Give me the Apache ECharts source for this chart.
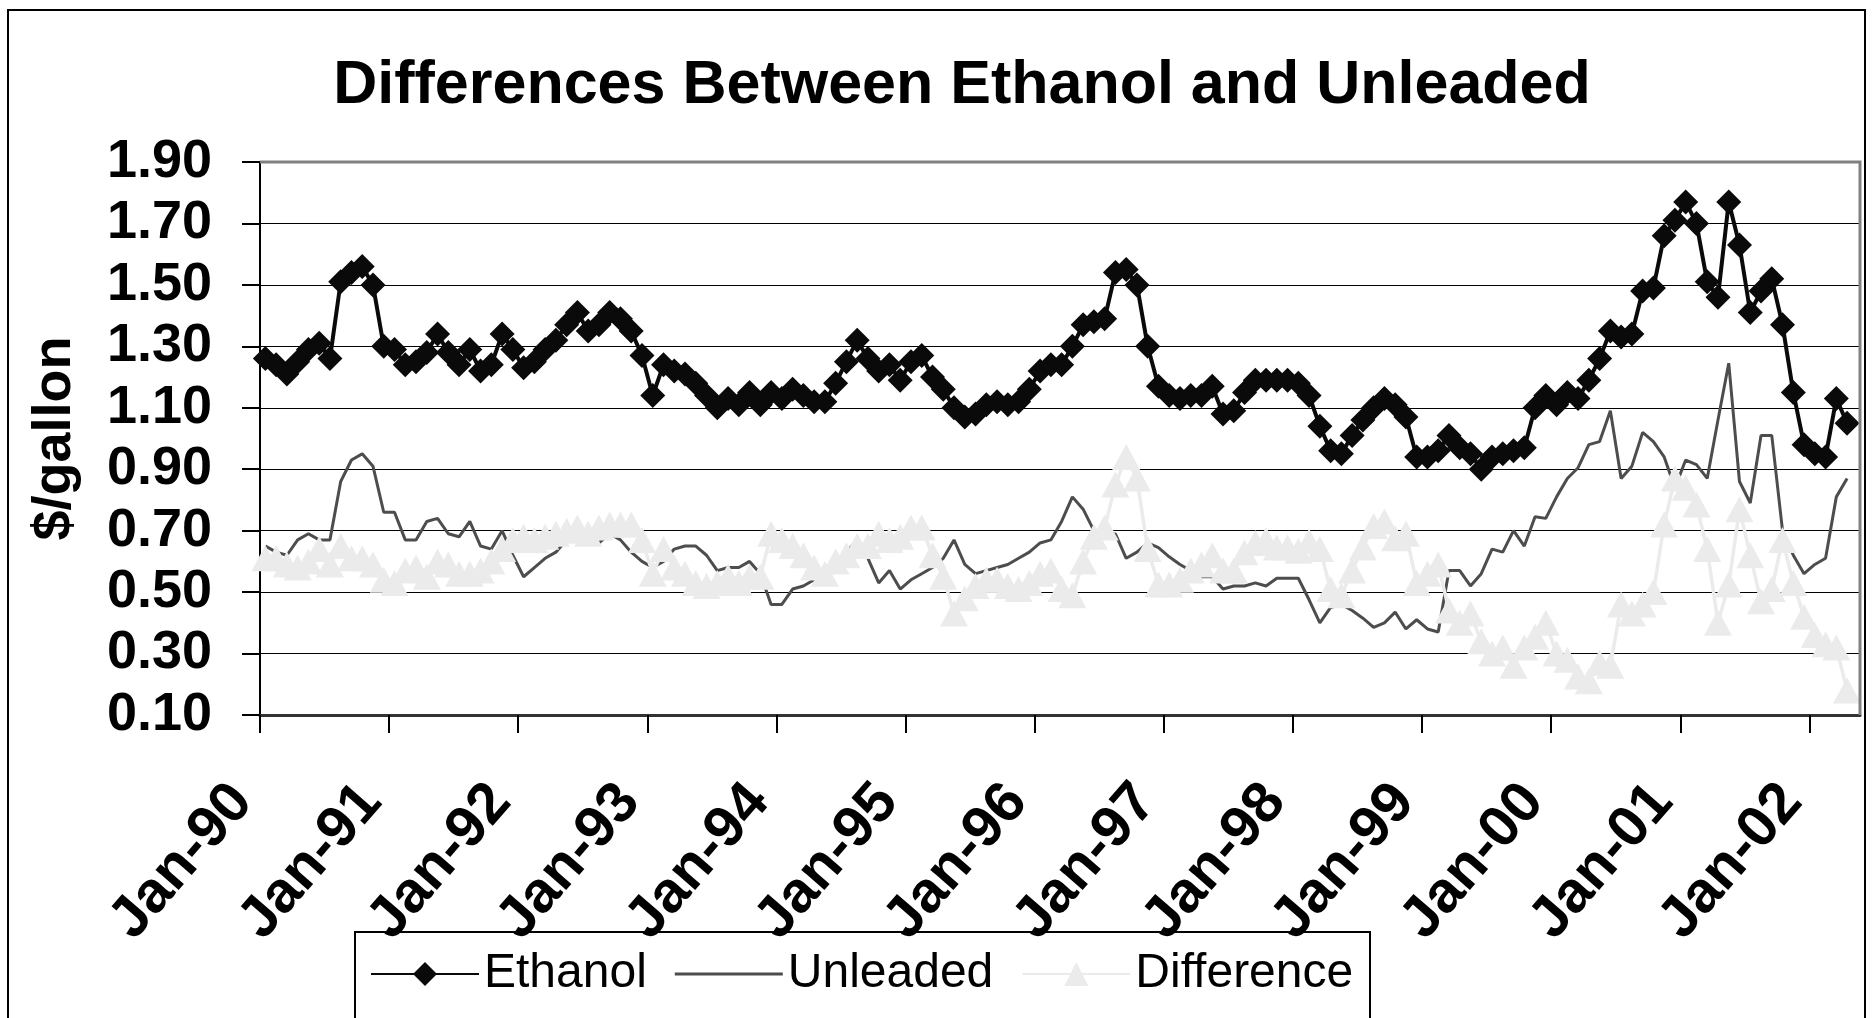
<!DOCTYPE html>
<html>
<head>
<meta charset="utf-8">
<script src="https://cdn.jsdelivr.net/npm/echarts@6/dist/echarts.min.js"></script>
<style>
html,body{margin:0;padding:0;background:#fff;}
#chart{width:1872px;height:1018px;}
</style>
</head>
<body>
<div id="chart"></div>
<script>
// ---- data (monthly, Jan-1990 .. Apr-2002) ----
const tickLabels = ['Jan-90','Jan-91','Jan-92','Jan-93','Jan-94','Jan-95','Jan-96','Jan-97','Jan-98','Jan-99','Jan-00','Jan-01','Jan-02'];
const tickMonths = [0,12,24,36,48,60,72,84,96,108,120,132,144];

const ethanol = [
  1.26,1.24,1.21,1.25,1.29,1.31,1.26,1.51,1.54,1.56,1.50,1.30,
  1.29,1.24,1.25,1.28,1.34,1.28,1.24,1.29,1.22,1.24,1.34,1.29,
  1.23,1.25,1.29,1.32,1.37,1.41,1.35,1.37,1.41,1.39,1.35,1.27,
  1.14,1.24,1.22,1.21,1.18,1.14,1.10,1.13,1.11,1.15,1.11,1.15,
  1.13,1.16,1.14,1.12,1.12,1.18,1.25,1.32,1.26,1.22,1.24,1.19,
  1.25,1.27,1.20,1.16,1.10,1.07,1.08,1.11,1.12,1.11,1.12,1.16,
  1.22,1.24,1.24,1.30,1.37,1.38,1.39,1.54,1.55,1.50,1.30,1.17,
  1.14,1.13,1.14,1.14,1.17,1.08,1.09,1.15,1.19,1.19,1.19,1.19,
  1.18,1.14,1.04,0.96,0.95,1.01,1.06,1.10,1.13,1.11,1.07,0.94,
  0.94,0.96,1.01,0.97,0.95,0.90,0.94,0.95,0.96,0.97,1.10,1.14,
  1.11,1.15,1.13,1.19,1.26,1.35,1.33,1.34,1.48,1.49,1.66,1.71,
  1.77,1.70,1.51,1.46,1.77,1.63,1.41,1.48,1.52,1.37,1.15,0.98,
  0.95,0.94,1.13,1.05
];

const unleaded = [
  0.65,0.63,0.62,0.67,0.69,0.67,0.67,0.86,0.93,0.95,0.91,0.76,
  0.76,0.67,0.67,0.73,0.74,0.69,0.68,0.73,0.65,0.64,0.70,0.62,
  0.55,0.58,0.61,0.63,0.67,0.70,0.66,0.66,0.69,0.67,0.63,0.60,
  0.58,0.60,0.64,0.65,0.65,0.62,0.57,0.58,0.58,0.60,0.56,0.46,
  0.46,0.51,0.52,0.54,0.56,0.58,0.63,0.67,0.61,0.53,0.57,0.51,
  0.54,0.56,0.58,0.61,0.67,0.59,0.56,0.57,0.58,0.59,0.61,0.63,
  0.66,0.67,0.73,0.81,0.77,0.70,0.68,0.69,0.61,0.63,0.66,0.645,
  0.615,0.59,0.57,0.55,0.55,0.51,0.52,0.52,0.53,0.52,0.545,0.545,
  0.545,0.475,0.40,0.45,0.46,0.44,0.415,0.385,0.40,0.435,0.38,0.41,
  0.38,0.37,0.57,0.57,0.52,0.56,0.64,0.63,0.70,0.65,0.745,0.74,
  0.81,0.87,0.905,0.98,0.99,1.09,0.87,0.91,1.02,0.99,0.94,0.84,
  0.93,0.915,0.87,1.06,1.245,0.86,0.79,1.01,1.01,0.70,0.62,0.56,
  0.59,0.61,0.81,0.87
];

const difference = [
  0.61,0.61,0.59,0.58,0.60,0.64,0.59,0.65,0.61,0.61,0.59,0.54,
  0.53,0.57,0.58,0.55,0.60,0.59,0.56,0.56,0.57,0.60,0.64,0.67,
  0.68,0.67,0.68,0.69,0.70,0.71,0.69,0.71,0.72,0.72,0.72,0.67,
  0.56,0.64,0.58,0.56,0.53,0.52,0.53,0.55,0.53,0.55,0.55,0.69,
  0.67,0.65,0.62,0.58,0.56,0.60,0.62,0.65,0.65,0.69,0.67,0.68,
  0.71,0.71,0.62,0.55,0.43,0.48,0.52,0.54,0.54,0.52,0.51,0.53,
  0.56,0.57,0.51,0.49,0.60,0.68,0.71,0.85,0.94,0.87,0.64,0.525,
  0.525,0.54,0.57,0.59,0.62,0.57,0.57,0.63,0.66,0.67,0.645,0.645,
  0.635,0.665,0.64,0.51,0.49,0.57,0.645,0.715,0.73,0.675,0.69,0.53,
  0.56,0.59,0.44,0.40,0.43,0.34,0.30,0.32,0.26,0.32,0.355,0.40,
  0.30,0.28,0.225,0.21,0.27,0.26,0.46,0.43,0.46,0.50,0.72,0.87,
  0.84,0.785,0.64,0.40,0.525,0.77,0.62,0.47,0.51,0.67,0.53,0.42,
  0.36,0.33,0.32,0.18
];

// ---- chart ----
const FONT = "'Liberation Sans', Arial, Helvetica, sans-serif";
const toPoints = arr => arr.map((v, i) => [i + 0.5, v]); // mid-month positions on a month axis

const chart = echarts.init(document.getElementById('chart'), null, {renderer: 'canvas'});
chart.setOption({
  animation: false,
  backgroundColor: '#ffffff',
  textStyle: {fontFamily: FONT},
  grid: {left: 260, top: 162, width: 1600, height: 553, containLabel: false},
  xAxis: {
    type: 'value', min: 0, max: 148.7,
    axisLine: {show: true, onZero: false, lineStyle: {color: '#333333', width: 3}},
    axisTick: {show: true, length: 18, customValues: tickMonths, lineStyle: {color: '#000', width: 2}},
    axisLabel: {
      customValues: tickMonths,
      formatter: v => tickLabels[Math.round(v / 12)] || '',
      rotate: 49, margin: 57, padding: [0, 27, 0, 0],
      fontSize: 58, fontWeight: 'bold', color: '#000', fontFamily: FONT
    },
    splitLine: {show: false}
  },
  yAxis: {
    type: 'value', min: 0.1, max: 1.9, interval: 0.2,
    name: '$/gallon', nameLocation: 'middle', nameGap: 178, nameRotate: 90,
    nameTextStyle: {fontSize: 54, fontWeight: 'bold', color: '#000', fontFamily: FONT},
    axisLine: {show: true, onZero: false, lineStyle: {color: '#000', width: 2}},
    axisTick: {show: true, length: 18, lineStyle: {color: '#000', width: 2}},
    axisLabel: {margin: 48, fontSize: 54, fontWeight: 'bold', color: '#000', fontFamily: FONT,
      formatter: v => v.toFixed(2)},
    splitLine: {show: true, lineStyle: {color: '#000', width: 1}}
  },
  legend: {
    left: 370, top: 950, padding: 0, itemGap: 28, itemWidth: 108, itemHeight: 30,
    textStyle: {fontSize: 48, color: '#000', fontFamily: FONT, lineHeight: 48},
    data: [
      {name: 'Ethanol'},
      {name: 'Unleaded', icon: 'path://M0,0L108,0L108,3L0,3Z'},
      {name: 'Difference'}
    ]
  },
  graphic: [
    {type: 'rect', silent: true, z: 100, shape: {x: 8, y: 10, width: 1857, height: 1040},
      style: {fill: 'none', stroke: '#000', lineWidth: 2}},
    {type: 'polyline', silent: true, z: 100, shape: {points: [[260, 162], [1860, 162], [1860, 715]]},
      style: {fill: 'none', stroke: '#808080', lineWidth: 3}},
    {type: 'rect', silent: true, z: 100, shape: {x: 355, y: 932, width: 1015, height: 120},
      style: {fill: 'none', stroke: '#000', lineWidth: 2}},
    {type: 'text', silent: true, z: 100, x: 962, y: 86,
      style: {text: 'Differences Between Ethanol and Unleaded', fontSize: 61, fontWeight: 'bold',
        fontFamily: FONT, fill: '#000', align: 'center', verticalAlign: 'middle'}}
  ],
  series: [
    {name: 'Ethanol', type: 'line', data: toPoints(ethanol),
      symbol: 'diamond', symbolSize: 25, showSymbol: true,
      lineStyle: {color: '#0a0a0a', width: 4}, itemStyle: {color: '#0a0a0a'}},
    {name: 'Unleaded', type: 'line', data: toPoints(unleaded),
      symbol: 'none', showSymbol: false,
      lineStyle: {color: '#4d4d4d', width: 3}, itemStyle: {color: '#4d4d4d'}},
    {name: 'Difference', type: 'line', data: toPoints(difference),
      symbol: 'triangle', symbolSize: [28, 26], showSymbol: true,
      lineStyle: {color: '#ebebeb', width: 3.5}, itemStyle: {color: '#ebebeb'}}
  ]
});
</script>
</body>
</html>
